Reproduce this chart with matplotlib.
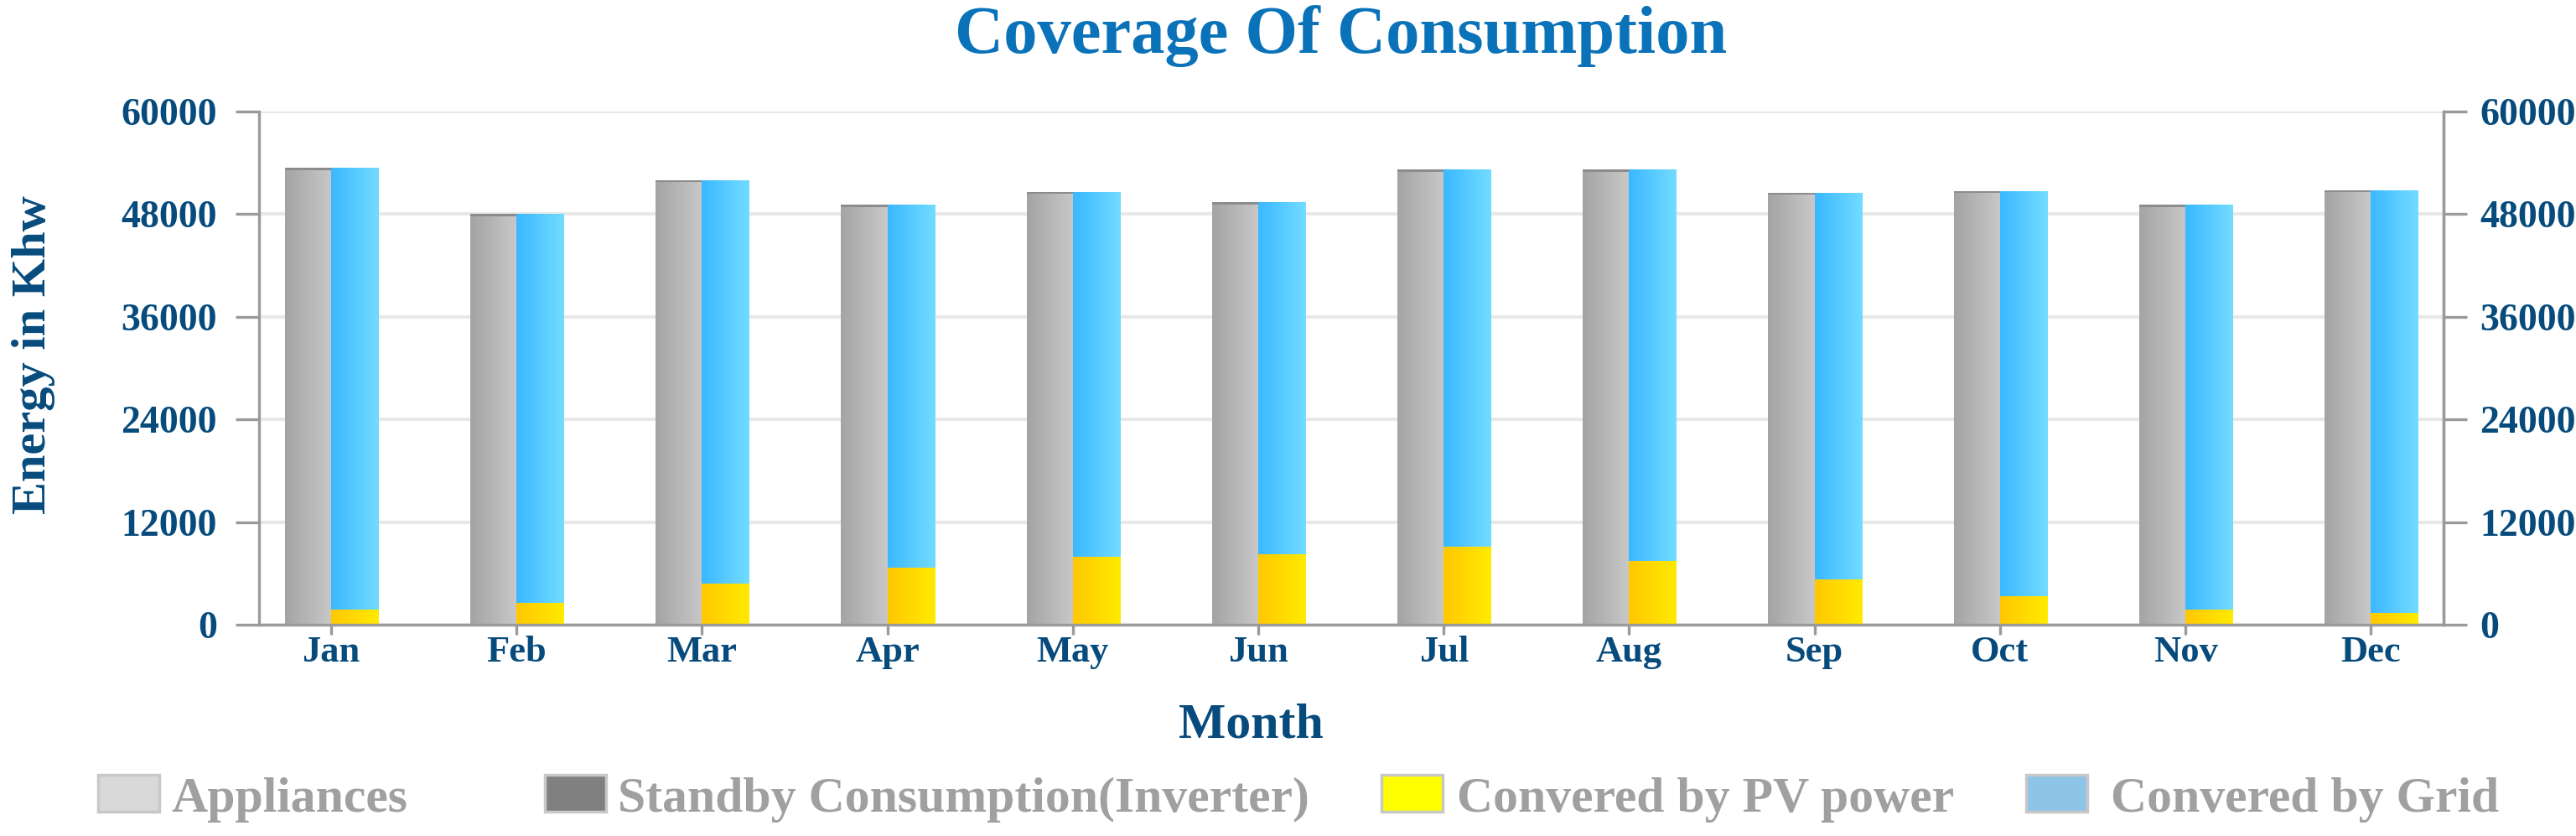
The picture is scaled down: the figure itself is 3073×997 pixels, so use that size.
import numpy as np
import matplotlib
matplotlib.use("Agg")
import matplotlib.pyplot as plt
from matplotlib.patches import Rectangle
from matplotlib.colors import LinearSegmentedColormap

plt.rcParams['font.family'] = ['Liberation Serif', 'DejaVu Serif']

months = ["Jan", "Feb", "Mar", "Apr", "May", "Jun", "Jul", "Aug", "Sep", "Oct", "Nov", "Dec"]
appliances = [53150, 47750, 51750, 48850, 50350, 49150, 52950, 52950, 50250, 50450, 48850, 50550]
standby = [250, 250, 250, 250, 250, 250, 250, 250, 250, 250, 250, 250]
pv_power = [1720, 2540, 4790, 6680, 7960, 8260, 9080, 7450, 5320, 3360, 1760, 1400]
grid = [51680, 45460, 47210, 42420, 42640, 41140, 44120, 45750, 45180, 47340, 47340, 49400]
yticks = [0, 12000, 24000, 36000, 48000, 60000]
legend_labels = ["Appliances", "Standby Consumption(Inverter)", "Convered by PV power", "Convered by Grid"]

W, H = 3073, 997
fig = plt.figure(figsize=(W / 100, H / 100), dpi=100)
fig.patch.set_facecolor("white")

def fx(px):
    return px / W

def fy(py):
    return 1 - py / H

ax = fig.add_axes([fx(309), fy(745), fx(2915 - 309), (745 - 133) / H])

label_col = "#074b7d"
axis_col = "#9a9a9a"
x = np.arange(len(months))
bw_gray = 0.25
bw_blue = 0.255

gray_bars = ax.bar(x, appliances, width=-bw_gray, align="edge", color="#b4b4b4", zorder=3)
stand_bars = ax.bar(x, standby, width=-bw_gray, align="edge", bottom=appliances, color="#8c8c8c", zorder=3)
pv_bars = ax.bar(x, pv_power, width=bw_blue, align="edge", color="#ffd800", zorder=3)
grid_bars = ax.bar(x, grid, width=bw_blue, align="edge", bottom=pv_power, color="#55c8ff", zorder=3)

def grad(bars, c1, c2):
    cmap = LinearSegmentedColormap.from_list("g", [c1, c2])
    g = np.linspace(0, 1, 64).reshape(1, -1)
    for p in bars:
        x0, y0 = p.get_x(), p.get_y()
        w, h = p.get_width(), p.get_height()
        xl, xr = min(x0, x0 + w), max(x0, x0 + w)
        im = ax.imshow(g, cmap=cmap, extent=[xl, xr, y0, y0 + h], aspect="auto",
                       zorder=3.5, interpolation="bilinear")
        im.set_clip_path(p)

grad(gray_bars, "#a4a4a4", "#c8c8c8")
grad(pv_bars, "#ffc800", "#ffea00")
grad(grid_bars, "#3bb8ff", "#72dcff")

ax.set_xlim(-0.389, 11.392)
ax.set_ylim(0, 60000)
ax.set_yticks(yticks)
ax.set_yticklabels([str(v) for v in yticks])
ax.set_xticks(x)
ax.set_xticklabels(months)
ax.grid(axis="y", color="#e8e8e8", lw=3, zorder=0)
ax.set_axisbelow(True)
ax.spines["top"].set_visible(False)
for s in ["left", "right", "bottom"]:
    ax.spines[s].set_color(axis_col)
    ax.spines[s].set_linewidth(2.4)
    ax.spines[s].set_zorder(4)

ax.tick_params(axis="y", length=20, width=2.4, color=axis_col, pad=16,
               labelsize=33, labelcolor=label_col)
ax.tick_params(axis="x", length=8.6, width=2.4, color=axis_col, pad=1,
               labelsize=32, labelcolor=label_col)
for t in ax.get_yticklabels() + ax.get_xticklabels():
    t.set_fontweight("bold")

ax2 = ax.twinx()
ax2.set_ylim(0, 60000)
ax2.set_yticks(yticks)
ax2.set_yticklabels([str(v) for v in yticks])
for s in ["top", "left", "bottom"]:
    ax2.spines[s].set_visible(False)
ax2.spines["right"].set_color(axis_col)
ax2.spines["right"].set_linewidth(2.4)
ax2.tick_params(axis="y", length=20, width=2.4, color=axis_col, pad=11,
                labelsize=33, labelcolor=label_col)
for t in ax2.get_yticklabels():
    t.set_fontweight("bold")

fig.text(fx(1600), fy(63), "Coverage Of Consumption", ha="center", va="baseline",
         fontsize=58, fontweight="bold", color="#0a72b8")
fig.text(fx(40), fy(423), "Energy in Khw", ha="center", va="center", rotation=90,
         fontsize=42, fontweight="bold", color=label_col)
fig.text(fx(1492), fy(879), "Month", ha="center", va="baseline",
         fontsize=43, fontweight="bold", color=label_col)

box_x = [117, 650, 1648, 2417]
text_x = [204, 737, 1738, 2518]
box_cols = ["#d9d9d9", "#808080", "#ffff00", "#8dc4e8"]
for bx, tx, c, lab in zip(box_x, text_x, box_cols, legend_labels):
    fig.patches.append(Rectangle((fx(bx), fy(968)), fx(73), 44 / H, transform=fig.transFigure,
                                 facecolor=c, edgecolor="#c8c8c8", lw=2.5))
    fig.text(fx(tx), fy(968), lab, ha="left", va="baseline", fontsize=43,
             fontweight="bold", color="#a0a0a0")

fig.savefig("out.png", dpi=100)
